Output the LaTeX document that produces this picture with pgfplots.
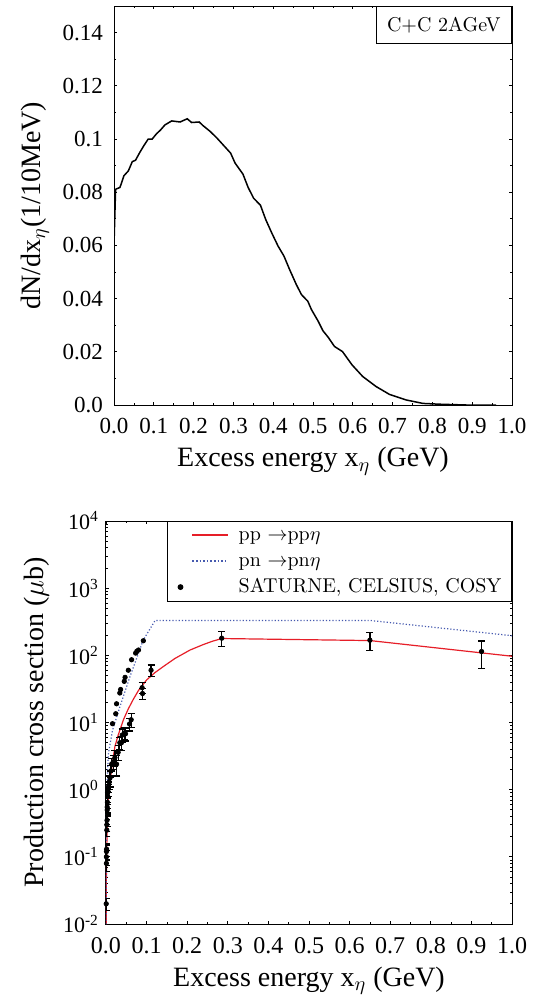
\documentclass[border=0pt]{standalone}
\usepackage{fontspec}
\setmainfont{Liberation Serif}
\newfontfamily\lmfont{Latin Modern Roman}
\usepackage{pgfplots}
\pgfplotsset{compat=1.18}
\definecolor{ppred}{RGB}{230,30,40}
\definecolor{pnblue}{RGB}{70,90,175}

\pgfplotstableread{
x y e
0.0005 0.02 0.004
0.0010 0.08 0.02
0.0010 0.10 0.025
0.0012 0.12 0.03
0.0015 0.13 0.03
0.0020 0.25 0.05
0.0020 0.30 0.06
0.0025 0.35 0.07
0.0030 0.50 0.10
0.0030 0.55 0.10
0.0035 0.65 0.12
0.0040 0.80 0.15
0.0040 0.90 0.15
0.0050 1.00 0.20
0.0060 1.10 0.20
0.0080 1.30 0.30
0.0100 1.50 0.40
0.0120 1.90 0.40
0.0140 2.40 0.50
0.0180 2.60 0.60
0.0220 3.00 0.80
0.0260 2.40 0.80
0.0300 3.60 0.90
0.0340 5.00 1.00
0.0380 5.00 1.20
0.0400 6.50 1.50
0.0450 7.00 1.50
0.0480 6.80 1.50
0.0580 9.50 2.00
0.0620 11.0 2.50
0.0890 33.0 6.00
0.0900 27.0 5.00
0.1110 60.0 12.0
0.2850 180 45
0.6500 168 50
0.9250 114 50
}\lowdata

\pgfplotstableread{
x y
0.016 9.6
0.024 13.5
0.026 19
0.034 27.5
0.036 31
0.045 41
0.047 47
0.055 60
0.063 86
0.073 108
0.076 115
0.080 120
0.092 165
}\updata

\begin{document}
\begin{tikzpicture}
\useasboundingbox (0,0) rectangle (269.5pt,-498pt);
\pgfplotsset{
  myaxis/.style={
    scale only axis,
    anchor=south west,
    xmin=0, xmax=1,
    xtick={0,0.1,0.2,0.3,0.4,0.5,0.6,0.7,0.8,0.9,1.0},
    xticklabels={0.0,0.1,0.2,0.3,0.4,0.5,0.6,0.7,0.8,0.9,1.0},
    minor x tick num=1,
    tick align=inside,
    major tick length=1.6pt, minor tick length=1pt,
    axis line style={line width=0.5pt},
    every tick/.style={black, line width=0.4pt},
    tick label style={font=\fontsize{11.5}{13}\selectfont},
    label style={font=\fontsize{14}{16}\selectfont},
    xticklabel style={yshift=-3pt},
    xlabel={Excess energy x$_\eta$ (GeV)},
  }
}
\begin{axis}[myaxis,
  at={(57pt,-202.5pt)},
  width=199pt, height=199.5pt,
  ymin=0, ymax=0.15,
  ytick={0,0.02,0.04,0.06,0.08,0.1,0.12,0.14},
  yticklabels={0.0,0.02,0.04,0.06,0.08,0.1,0.12,0.14},
  minor y tick num=1,
  yticklabel style={xshift=-2pt},
  ylabel={dN/dx$_\eta$(1/10MeV)},
]
\addplot[black, line width=0.75pt] coordinates {
(0.000,0.0604)(0.004,0.0811)(0.015,0.0818)(0.025,0.0862)(0.036,0.0880)
(0.046,0.0915)(0.054,0.0920)(0.065,0.0950)(0.075,0.0975)(0.086,0.1000)
(0.096,0.1000)(0.107,0.1020)(0.117,0.1034)(0.128,0.1053)(0.145,0.1068)
(0.166,0.1064)(0.184,0.1076)(0.195,0.1062)(0.214,0.1064)(0.224,0.1050)
(0.242,0.1028)(0.259,0.1003)(0.276,0.0975)(0.293,0.0947)(0.304,0.0910)
(0.324,0.0868)(0.337,0.0818)(0.351,0.0777)(0.368,0.0751)(0.381,0.0698)
(0.396,0.0648)(0.412,0.0598)(0.427,0.0560)(0.441,0.0510)(0.458,0.0453)
(0.471,0.0415)(0.487,0.0390)(0.496,0.0359)(0.513,0.0315)(0.525,0.0279)
(0.538,0.0255)(0.554,0.0220)(0.574,0.0201)(0.598,0.0151)(0.625,0.0107)
(0.659,0.0069)(0.692,0.0040)(0.734,0.0019)(0.776,0.0006)(0.818,0.0003)
(0.885,0.0000)(0.960,0.0000)
};
\node[draw, fill=white, anchor=north east, line width=0.5pt,
  font=\lmfont\fontsize{10}{12}\selectfont, inner xsep=5.5pt,
  minimum height=18.5pt] at (rel axis cs:1,1) {C+C 2AGeV};
\end{axis}

\begin{axis}[myaxis,
  at={(53pt,-462pt)},
  width=203pt, height=201.5pt,
  ymode=log, ymin=0.01, ymax=1e4,
  ytick={0.01,0.1,1,10,100,1000,10000},
  yticklabels={10\textsuperscript{-2},10\textsuperscript{-1},10\textsuperscript{0},10\textsuperscript{1},10\textsuperscript{2},10\textsuperscript{3},10\textsuperscript{4}},
  xticklabel style={font=\fontsize{12}{14}\selectfont},
  yticklabel style={font=\fontsize{11}{13}\selectfont},
  ylabel={Production cross section ($\mu$b)},
  legend style={at={(1,1)}, anchor=north east, draw=black, line width=0.5pt,
    font=\lmfont\fontsize{10}{12}\selectfont,
    inner xsep=5pt, inner ysep=2.5pt, row sep=3.9pt, column sep=5pt,
    nodes={inner sep=0pt, text height=7pt, text depth=2pt}},
  legend cell align=left,
]
\addplot[ppred, line width=0.6pt,
  legend image code/.code={\path (-6.5pt,0pt) (0.62cm,0pt); \draw[draw=ppred, line width=0.9pt] (0pt,0.3pt)--(0.62cm,0.3pt);}]
 coordinates {
(0.0005,0.01)(0.001,0.05)(0.002,0.15)(0.004,0.45)(0.006,0.8)(0.008,1.1)
(0.010,1.35)(0.015,2.3)(0.022,4.4)(0.030,6.5)(0.043,11)(0.055,16)
(0.067,22)(0.080,30)(0.100,43)(0.120,55)(0.141,68)(0.170,90)(0.207,120)
(0.240,145)(0.262,162)(0.285,178)(0.650,166)(1.000,97)
};
\addlegendentry{pp $\rightarrow$pp$\eta$}
\addplot[pnblue, line width=0.6pt, densely dotted,
  legend image code/.code={\path (-6.5pt,0pt) (0.62cm,0pt); \draw[draw=pnblue, line width=0.8pt, densely dotted] (0pt,0.3pt)--(0.62cm,0.3pt);}]
 coordinates {
(0.0003,0.01)(0.001,0.3)(0.003,1.5)(0.006,3.5)(0.0164,7.8)(0.034,17)
(0.059,48)(0.092,170)(0.121,331)(0.650,331)(1.000,196)
};
\addlegendentry{pn $\rightarrow$pn$\eta$}
\addplot[black, only marks, mark=*, mark size=1.1pt,
  legend image code/.code={\path (-6.5pt,0pt) (0.62cm,0pt); \fill[fill=black] (-6pt,0pt) circle (1.2pt);},
  error bars/.cd, y dir=both, y explicit,
  error bar style={line width=0.6pt, black},
  error mark options={rotate=90, mark size=1.75pt, line width=0.6pt, black}]
  table[x=x, y=y, y error=e] {\lowdata};
\addlegendentry{SATURNE, CELSIUS, COSY}
\addplot[black, only marks, mark=*, mark size=1.1pt, forget plot]
  table[x=x, y=y] {\updata};
\end{axis}
\end{tikzpicture}
\end{document}
